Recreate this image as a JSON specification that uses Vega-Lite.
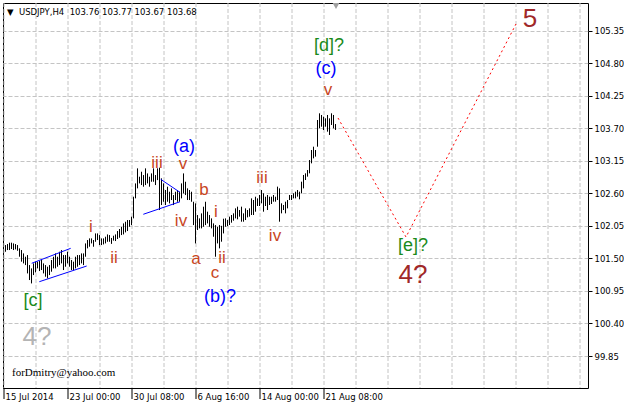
{
  "$schema": "https://vega.github.io/schema/vega-lite/v6.json",
  "width": 585,
  "height": 385,
  "autosize": {"type": "none"},
  "padding": {"left": 3, "top": 3, "right": 36, "bottom": 18},
  "background": "white",
  "title": {
    "text": "▼\u00a0\u00a0USDJPY,H4\u00a0\u00a0103.76 103.77 103.67 103.68",
    "anchor": "start", "frame": "group", "orient": "top", "offset": 0,
    "dx": 4, "dy": 20, "baseline": "alphabetic",
    "font": "DejaVu Sans", "fontSize": 8.5, "fontWeight": "normal", "color": "black"
  },
  "config": {
    "view": {"stroke": "black", "strokeWidth": 1},
    "axis": {
      "domain": false, "gridColor": "#c4c4c4", "gridDash": [4, 2], "gridWidth": 1,
      "labelFont": "DejaVu Sans", "labelFontSize": 8.5, "labelColor": "black",
      "tickColor": "black", "title": null, "labelOverlap": false
    }
  },
  "datasets": {
    "bars": [
      {"bar":1,"price":101.612,"high":101.725},{"bar":2,"price":101.641,"high":101.742},{"bar":3,"price":101.641,"high":101.765},{"bar":4,"price":101.658,"high":101.765},{"bar":5,"price":101.641,"high":101.753},
      {"bar":6,"price":101.652,"high":101.742},{"bar":7,"price":101.629,"high":101.725},{"bar":8,"price":101.528,"high":101.669},{"bar":9,"price":101.444,"high":101.641},{"bar":10,"price":101.415,"high":101.584},
      {"bar":11,"price":101.387,"high":101.528},{"bar":12,"price":101.246,"high":101.556},{"bar":13,"price":101.134,"high":101.387},{"bar":14,"price":101.077,"high":101.331},{"bar":15,"price":101.218,"high":101.415},
      {"bar":16,"price":101.263,"high":101.444},{"bar":17,"price":101.331,"high":101.444},{"bar":18,"price":101.286,"high":101.455},{"bar":19,"price":101.303,"high":101.472},{"bar":20,"price":101.246,"high":101.415},
      {"bar":21,"price":101.19,"high":101.387},{"bar":22,"price":101.162,"high":101.359},{"bar":23,"price":101.218,"high":101.387},{"bar":24,"price":101.275,"high":101.472},{"bar":25,"price":101.331,"high":101.528},
      {"bar":26,"price":101.331,"high":101.584},{"bar":27,"price":101.359,"high":101.528},{"bar":28,"price":101.387,"high":101.612},{"bar":29,"price":101.415,"high":101.641},{"bar":30,"price":101.303,"high":101.556},
      {"bar":31,"price":101.359,"high":101.556},{"bar":32,"price":101.415,"high":101.612},{"bar":33,"price":101.359,"high":101.528},{"bar":34,"price":101.303,"high":101.472},{"bar":35,"price":101.303,"high":101.444},
      {"bar":36,"price":101.331,"high":101.528},{"bar":37,"price":101.359,"high":101.556},{"bar":38,"price":101.387,"high":101.556},{"bar":39,"price":101.415,"high":101.584},{"bar":40,"price":101.387,"high":101.584},
      {"bar":41,"price":101.528,"high":101.753},{"bar":42,"price":101.669,"high":101.81},{"bar":43,"price":101.697,"high":101.838},{"bar":44,"price":101.753,"high":101.838},{"bar":45,"price":101.697,"high":101.81},
      {"bar":46,"price":101.781,"high":101.922},{"bar":47,"price":101.81,"high":101.922},{"bar":48,"price":101.725,"high":101.894},{"bar":49,"price":101.725,"high":101.838},{"bar":50,"price":101.736,"high":101.838},
      {"bar":51,"price":101.753,"high":101.866},{"bar":52,"price":101.781,"high":101.905},{"bar":53,"price":101.781,"high":101.894},{"bar":54,"price":101.745,"high":101.845},{"bar":55,"price":101.8,"high":101.883},
      {"bar":56,"price":101.793,"high":101.905},{"bar":57,"price":101.827,"high":101.962},{"bar":58,"price":101.849,"high":101.996},{"bar":59,"price":101.894,"high":102.035},{"bar":60,"price":101.905,"high":102.091},
      {"bar":61,"price":101.939,"high":102.119},{"bar":62,"price":101.962,"high":102.148},{"bar":63,"price":102.035,"high":102.148},{"bar":64,"price":102.063,"high":102.204},{"bar":65,"price":102.176,"high":102.542},
      {"bar":66,"price":102.514,"high":102.767},{"bar":67,"price":102.683,"high":103.021},{"bar":68,"price":102.767,"high":102.88},{"bar":69,"price":102.739,"high":102.964},{"bar":70,"price":102.711,"high":102.908},
      {"bar":71,"price":102.739,"high":103.021},{"bar":72,"price":102.767,"high":102.936},{"bar":73,"price":102.711,"high":102.88},{"bar":74,"price":102.795,"high":102.936},{"bar":75,"price":102.795,"high":103.021},
      {"bar":76,"price":102.739,"high":102.908},{"bar":77,"price":102.823,"high":103.021},{"bar":78,"price":102.317,"high":103.032},{"bar":79,"price":102.401,"high":102.852},{"bar":80,"price":102.457,"high":102.767},
      {"bar":81,"price":102.401,"high":102.655},{"bar":82,"price":102.457,"high":102.711},{"bar":83,"price":102.429,"high":102.626},{"bar":84,"price":102.486,"high":102.683},{"bar":85,"price":102.401,"high":102.57},
      {"bar":86,"price":102.486,"high":102.626},{"bar":87,"price":102.457,"high":102.655},{"bar":88,"price":102.457,"high":102.626},{"bar":89,"price":102.514,"high":102.767},{"bar":90,"price":102.598,"high":102.936},
      {"bar":91,"price":102.57,"high":102.795},{"bar":92,"price":102.486,"high":102.683},{"bar":93,"price":102.486,"high":102.655},{"bar":94,"price":102.457,"high":102.626},{"bar":95,"price":102.063,"high":102.457},
      {"bar":96,"price":101.753,"high":102.429},{"bar":97,"price":101.979,"high":102.232},{"bar":98,"price":102.007,"high":102.176},{"bar":99,"price":102.007,"high":102.26},{"bar":100,"price":102.035,"high":102.373},
      {"bar":101,"price":102.063,"high":102.457},{"bar":102,"price":102.091,"high":102.289},{"bar":103,"price":102.035,"high":102.232},{"bar":104,"price":102.007,"high":102.176},{"bar":105,"price":101.866,"high":102.091},
      {"bar":106,"price":101.528,"high":102.063},{"bar":107,"price":101.753,"high":102.035},{"bar":108,"price":101.669,"high":102.063},{"bar":109,"price":101.782,"high":102.05},{"bar":110,"price":101.922,"high":102.17},
      {"bar":111,"price":102.035,"high":102.176},{"bar":112,"price":102.047,"high":102.148},{"bar":113,"price":102.064,"high":102.205},{"bar":114,"price":102.103,"high":102.233},{"bar":115,"price":102.137,"high":102.261},
      {"bar":116,"price":102.176,"high":102.345},{"bar":117,"price":102.16,"high":102.374},{"bar":118,"price":102.205,"high":102.317},{"bar":119,"price":102.12,"high":102.374},{"bar":120,"price":102.12,"high":102.261},
      {"bar":121,"price":102.148,"high":102.345},{"bar":122,"price":102.193,"high":102.317},{"bar":123,"price":102.205,"high":102.345},{"bar":124,"price":102.233,"high":102.514},{"bar":125,"price":102.233,"high":102.486},
      {"bar":126,"price":102.289,"high":102.542},{"bar":127,"price":102.385,"high":102.514},{"bar":128,"price":102.385,"high":102.571},{"bar":129,"price":102.43,"high":102.655},{"bar":130,"price":102.289,"high":102.599},
      {"bar":131,"price":102.385,"high":102.542},{"bar":132,"price":102.317,"high":102.571},{"bar":133,"price":102.402,"high":102.542},{"bar":134,"price":102.419,"high":102.542},{"bar":135,"price":102.458,"high":102.571},
      {"bar":136,"price":102.458,"high":102.542},{"bar":137,"price":102.486,"high":102.712},{"bar":138,"price":102.12,"high":102.683},{"bar":139,"price":102.261,"high":102.43},{"bar":140,"price":102.317,"high":102.402},
      {"bar":141,"price":102.261,"high":102.458},{"bar":142,"price":102.345,"high":102.486},{"bar":143,"price":102.486,"high":102.571},{"bar":144,"price":102.486,"high":102.571},{"bar":145,"price":102.514,"high":102.599},
      {"bar":146,"price":102.514,"high":102.627},{"bar":147,"price":102.543,"high":102.655},{"bar":148,"price":102.498,"high":102.627},{"bar":149,"price":102.599,"high":102.796},{"bar":150,"price":102.683,"high":102.909},
      {"bar":151,"price":102.824,"high":102.937},{"bar":152,"price":102.881,"high":102.993},{"bar":153,"price":102.937,"high":103.162},{"bar":154,"price":103.106,"high":103.331},{"bar":155,"price":103.19,"high":103.387},
      {"bar":156,"price":103.219,"high":103.331},{"bar":157,"price":103.387,"high":103.838},{"bar":158,"price":103.697,"high":103.951},{"bar":159,"price":103.725,"high":103.923},{"bar":160,"price":103.669,"high":103.894},
      {"bar":161,"price":103.725,"high":103.866},{"bar":162,"price":103.641,"high":103.923},{"bar":163,"price":103.585,"high":103.866},{"bar":164,"price":103.754,"high":103.951},{"bar":165,"price":103.697,"high":103.923},
      {"bar":166,"price":103.67,"high":103.77}
    ],
    "blueLines": [
      {"bar":14.1,"price":101.417,"bar2":33.6,"price2":101.67},
      {"bar":17.9,"price":101.106,"bar2":41.6,"price2":101.371},
      {"bar":78.6,"price":102.836,"bar2":88.25,"price2":102.616},
      {"bar":69.9,"price":102.245,"bar2":88.25,"price2":102.457}
    ],
    "projection": [
      {"bar":167.25,"price":103.872},
      {"bar":201.25,"price":101.861},
      {"bar":256.25,"price":105.46}
    ],
    "labels": [
      {"bar":14.75,"price":100.78,"label":"[c]","kind":"primary"},
      {"bar":16.75,"price":100.171,"label":"4?","kind":"cycleOld"},
      {"bar":43.75,"price":102.03,"label":"i","kind":"minor"},
      {"bar":55.25,"price":101.506,"label":"ii","kind":"minor"},
      {"bar":76.75,"price":103.111,"label":"iii","kind":"minor"},
      {"bar":88.75,"price":102.131,"label":"iv","kind":"minor"},
      {"bar":89.75,"price":103.094,"label":"v","kind":"minor"},
      {"bar":90.25,"price":103.382,"label":"(a)","kind":"intermediate"},
      {"bar":100.25,"price":102.655,"label":"b","kind":"minor"},
      {"bar":96.25,"price":101.489,"label":"a","kind":"minor"},
      {"bar":106.25,"price":102.283,"label":"i","kind":"minor"},
      {"bar":109.25,"price":101.506,"label":"ii","kind":"minor"},
      {"bar":105.75,"price":101.253,"label":"c","kind":"minor"},
      {"bar":108.25,"price":100.847,"label":"(b)?","kind":"intermediate"},
      {"bar":129.25,"price":102.858,"label":"iii","kind":"minor"},
      {"bar":135.75,"price":101.878,"label":"iv","kind":"minor"},
      {"bar":162.75,"price":105.088,"label":"[d]?","kind":"primary"},
      {"bar":161.25,"price":104.7,"label":"(c)","kind":"intermediate"},
      {"bar":162.25,"price":104.345,"label":"v","kind":"minor"},
      {"bar":204.75,"price":101.709,"label":"[e]?","kind":"primary"},
      {"bar":204.75,"price":101.219,"label":"4?","kind":"cycle"},
      {"bar":263.25,"price":105.545,"label":"5","kind":"cycle"}
    ],
    "signature": [
      {"bar":4.25,"price":99.563,"label":"forDmitry@yahoo.com"}
    ],
    "shiftMarker": [
      {"bar":166.25,"price":105.764}
    ]
  },
  "encoding": {
    "x": {
      "field": "bar", "type": "quantitative",
      "scale": {"domain": [-0.25, 292.25], "nice": false, "zero": false},
      "axis": {
        "orient": "bottom", "translate": 0,
        "values": [0,16,32,48,64,80,96,112,128,144,160,176,192,208,224,240,256,272,288],
        "labelExpr": "datum.value==0?'15 Jul 2014':datum.value==32?'23 Jul 00:00':datum.value==64?'30 Jul 08:00':datum.value==96?'6 Aug 16:00':datum.value==128?'14 Aug 00:00':datum.value==160?'21 Aug 08:00':''",
        "grid": true, "tickSize": 11,
        "tickOpacity": {"condition": {"test": "datum.value % 32 === 0 && datum.value <= 160", "value": 1}, "value": 0},
        "labelAlign": "left", "labelBaseline": "alphabetic", "labelPadding": 1, "labelOffset": 2,
        "labelFlush": false, "labelBound": false
      }
    },
    "y": {
      "field": "price", "type": "quantitative",
      "scale": {"domain": [99.31, 105.815], "nice": false, "zero": false},
      "axis": {
        "orient": "right",
        "values": [99.85,100.4,100.95,101.5,102.05,102.6,103.15,103.7,104.25,104.8,105.35],
        "format": ".2f", "grid": true, "tickSize": 4, "labelPadding": 2,
        "labelBaseline": "middle"
      }
    }
  },
  "layer": [
    {
      "data": {"name": "bars"},
      "mark": {"type": "rule", "color": "black", "strokeWidth": 1},
      "encoding": {"y2": {"field": "high"}}
    },
    {
      "data": {"name": "blueLines"},
      "mark": {"type": "rule", "color": "#0000ff", "strokeWidth": 1},
      "encoding": {"x2": {"field": "bar2"}, "y2": {"field": "price2"}}
    },
    {
      "data": {"name": "projection"},
      "mark": {"type": "line", "color": "#ff0000", "strokeWidth": 1, "strokeDash": [2, 3]},
      "encoding": {}
    },
    {
      "data": {"name": "labels"},
      "transform": [{"filter": "datum.kind === 'minor'"}],
      "mark": {"type": "text", "font": "Liberation Sans", "fontSize": 17, "align": "center", "baseline": "middle", "color": "#c8461e"},
      "encoding": {"text": {"field": "label"}}
    },
    {
      "data": {"name": "labels"},
      "transform": [{"filter": "datum.kind === 'intermediate'"}],
      "mark": {"type": "text", "font": "Liberation Sans", "fontSize": 18, "align": "center", "baseline": "middle", "color": "#0000ff"},
      "encoding": {"text": {"field": "label"}}
    },
    {
      "data": {"name": "labels"},
      "transform": [{"filter": "datum.kind === 'primary'"}],
      "mark": {"type": "text", "font": "Liberation Sans", "fontSize": 18, "align": "center", "baseline": "middle", "color": "#1a8a1a"},
      "encoding": {"text": {"field": "label"}}
    },
    {
      "data": {"name": "labels"},
      "transform": [{"filter": "datum.kind === 'cycleOld'"}],
      "mark": {"type": "text", "font": "Liberation Sans", "fontSize": 26, "align": "center", "baseline": "middle", "color": "#b4b4b4"},
      "encoding": {"text": {"field": "label"}}
    },
    {
      "data": {"name": "labels"},
      "transform": [{"filter": "datum.kind === 'cycle'"}],
      "mark": {"type": "text", "font": "Liberation Sans", "fontSize": 26, "align": "center", "baseline": "middle", "color": "#a02828"},
      "encoding": {"text": {"field": "label"}}
    },
    {
      "data": {"name": "signature"},
      "mark": {"type": "text", "font": "Liberation Serif", "fontSize": 11, "align": "left", "baseline": "middle", "color": "black"},
      "encoding": {"text": {"field": "label"}}
    },
    {
      "data": {"name": "shiftMarker"},
      "mark": {"type": "point", "shape": "triangle-down", "filled": true, "color": "#a0a0a0", "size": 45, "opacity": 1},
      "encoding": {}
    }
  ]
}
